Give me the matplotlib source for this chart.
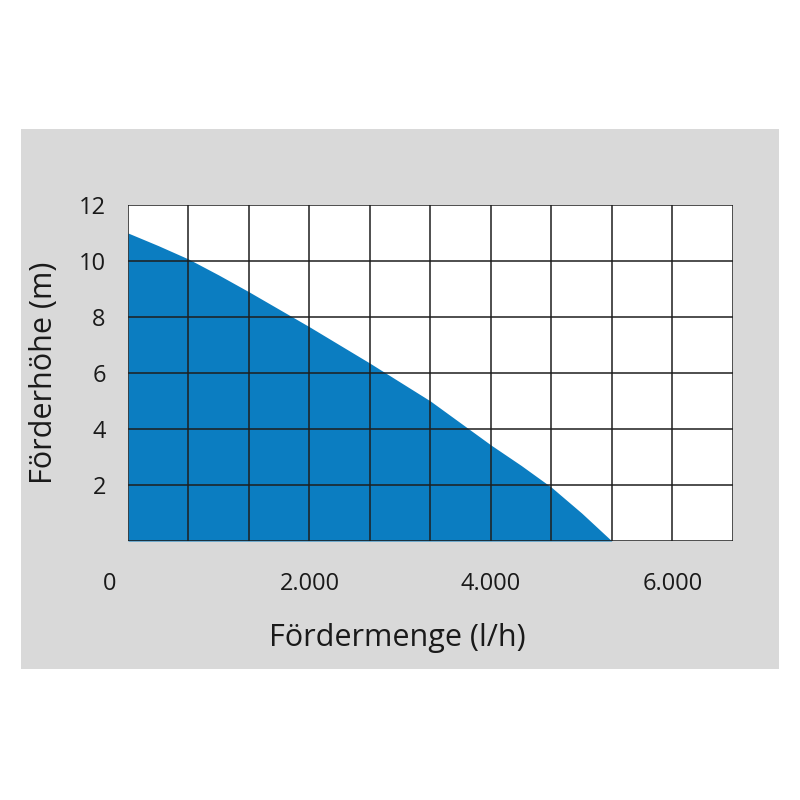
import numpy as np
import matplotlib.pyplot as plt
from matplotlib.patches import Rectangle
from matplotlib.transforms import ScaledTranslation

# pump curve: flow rate (l/h) vs head (m)
flow = [0, 333, 667, 1000, 1333, 2000, 2667, 3333, 4000, 4333, 4667, 5000, 5333]
head = [11.0, 10.55, 10.07, 9.5, 8.9, 7.65, 6.35, 5.0, 3.43, 2.7, 1.92, 1.0, 0.0]

x_ticks = [0, 2000, 4000, 6000]
x_tick_labels = ["0", "2.000", "4.000", "6.000"]
y_ticks = [2, 4, 6, 8, 10, 12]
y_tick_labels = ["2", "4", "6", "8", "10", "12"]

x_max = 6666.67   # 10 grid columns
y_max = 12

blue = "#0b7dc1"
panel_gray = "#d9d9d9"
line_col = "#1e1e1e"

plt.rcParams['font.family'] = ['Open Sans', 'DejaVu Sans']

fig = plt.figure(figsize=(8, 8), dpi=100)
fig.patch.set_facecolor("white")

# grey backdrop panel (behind the axes)
fig.patches.append(Rectangle((21 / 800, 1 - 669 / 800), 758 / 800, 540 / 800,
                             transform=fig.transFigure, facecolor=panel_gray,
                             edgecolor="none", zorder=-5))

ax = fig.add_axes([0.16, 0.32375, 0.756, 0.42])
ax.set_facecolor("white")

# filled area under the curve
ax.fill_between(flow, head, 0, color=blue, linewidth=0, zorder=1)

# grid: 10 columns, 6 rows
for gx in np.linspace(0, x_max, 11):
    ax.axvline(gx, color=line_col, linewidth=1.1, zorder=2)
for gy in np.arange(0, y_max + 1, 2):
    ax.axhline(gy, color=line_col, linewidth=1.1, zorder=2)

ax.set_xlim(0, x_max)
ax.set_ylim(0, y_max)

for s in ax.spines.values():
    s.set_visible(False)

ax.set_xticks(x_ticks)
ax.set_xticklabels(x_tick_labels, fontsize=17, color="#1a1a1a")
ax.set_yticks(y_ticks)
ax.set_yticklabels(y_tick_labels, fontsize=17, color="#1a1a1a")
ax.tick_params(axis='x', length=0, pad=22)
ax.tick_params(axis='y', length=0, pad=16)

# "0" label sits a bit left of the axis origin
lbl0 = ax.get_xticklabels()[0]
lbl0.set_transform(lbl0.get_transform() + ScaledTranslation(-0.18, 0, fig.dpi_scale_trans))

ax.set_xlabel("Fördermenge (l/h)", fontsize=22, color="#1a1a1a", labelpad=20, x=0.445)
ax.set_ylabel("Förderhöhe (m)", fontsize=22, color="#1a1a1a", labelpad=14)

fig.savefig("out.png", dpi=100, facecolor="white")
